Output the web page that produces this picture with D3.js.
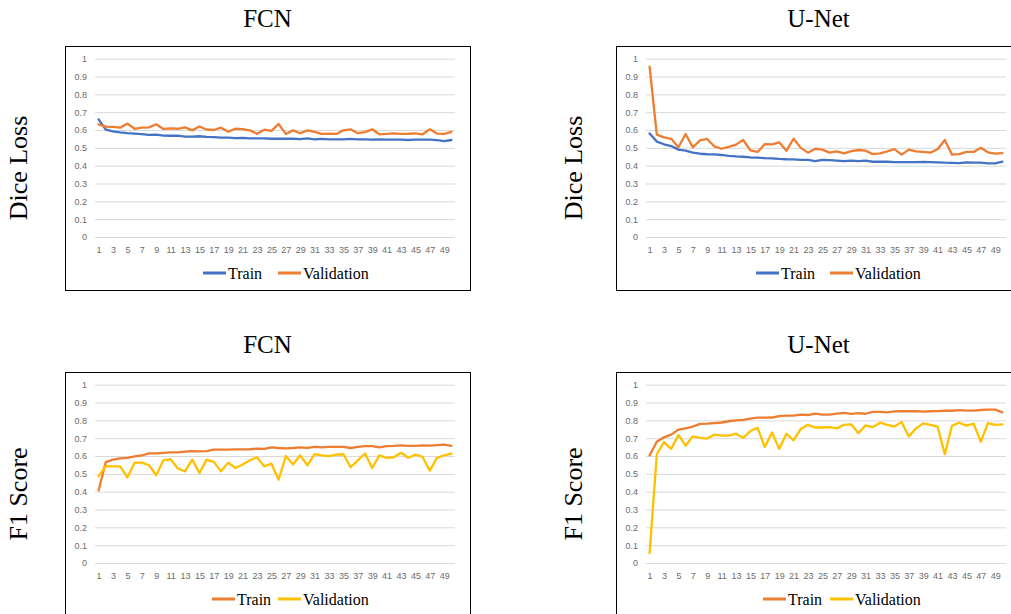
<!DOCTYPE html>
<html><head><meta charset="utf-8">
<script src="https://cdn.jsdelivr.net/npm/d3@7"></script>
<style>body{margin:0;background:#fff}svg{display:block}</style>
</head><body><svg id="c" width="1011" height="614"></svg>
<script>
const epochs = [1,2,3,4,5,6,7,8,9,10,11,12,13,14,15,16,17,18,19,20,21,22,23,24,25,26,27,28,29,30,31,32,33,34,35,36,37,38,39,40,41,42,43,44,45,46,47,48,49,50];
const xTickValues = [1,3,5,7,9,11,13,15,17,19,21,23,25,27,29,31,33,35,37,39,41,43,45,47,49];
const yTicks = [0,0.1,0.2,0.3,0.4,0.5,0.6,0.7,0.8,0.9,1];
const yTickLabels = ["0","0.1","0.2","0.3","0.4","0.5","0.6","0.7","0.8","0.9","1"];
const seriesNames = ["Train","Validation"];
const titles = ["FCN","U-Net","FCN","U-Net"];
const yLabels = ["Dice Loss","Dice Loss","F1 Score","F1 Score"];

const fcnDiceTrain = [0.660,0.602,0.592,0.587,0.583,0.580,0.577,0.573,0.574,0.569,
 0.568,0.568,0.563,0.563,0.565,0.562,0.560,0.557,0.557,0.554,
 0.556,0.553,0.553,0.553,0.551,0.551,0.551,0.551,0.549,0.553,
 0.548,0.550,0.548,0.548,0.548,0.550,0.548,0.548,0.546,0.548,
 0.546,0.546,0.546,0.544,0.546,0.546,0.546,0.543,0.538,0.544];
const fcnDiceVal = [0.632,0.619,0.618,0.613,0.636,0.607,0.613,0.615,0.632,0.606,
 0.609,0.607,0.615,0.598,0.620,0.603,0.600,0.613,0.591,0.607,
 0.605,0.598,0.579,0.602,0.595,0.634,0.578,0.598,0.582,0.598,
 0.590,0.578,0.580,0.578,0.598,0.604,0.582,0.588,0.604,0.576,
 0.578,0.581,0.578,0.579,0.581,0.576,0.604,0.580,0.578,0.590];
const unetDiceTrain = [0.581,0.535,0.520,0.510,0.490,0.485,0.473,0.467,0.464,0.463,
 0.460,0.455,0.452,0.450,0.446,0.445,0.442,0.441,0.438,0.436,
 0.435,0.433,0.432,0.425,0.432,0.431,0.428,0.425,0.428,0.425,
 0.428,0.422,0.422,0.422,0.420,0.420,0.420,0.420,0.421,0.420,
 0.419,0.417,0.416,0.414,0.418,0.417,0.417,0.413,0.413,0.423];
const unetDiceVal = [0.955,0.574,0.559,0.551,0.503,0.578,0.503,0.542,0.550,0.508,
 0.495,0.505,0.518,0.544,0.486,0.477,0.521,0.520,0.531,0.484,
 0.551,0.500,0.473,0.495,0.490,0.473,0.480,0.469,0.482,0.488,
 0.484,0.465,0.469,0.480,0.493,0.462,0.490,0.480,0.477,0.473,
 0.492,0.544,0.462,0.465,0.477,0.477,0.500,0.475,0.468,0.470];
const fcnF1Train = [0.407,0.566,0.580,0.587,0.590,0.598,0.603,0.615,0.615,0.618,
 0.620,0.620,0.625,0.628,0.626,0.628,0.636,0.636,0.636,0.637,
 0.637,0.638,0.642,0.640,0.648,0.645,0.643,0.645,0.648,0.646,
 0.651,0.649,0.651,0.651,0.651,0.645,0.651,0.655,0.655,0.649,
 0.655,0.657,0.660,0.657,0.657,0.660,0.658,0.661,0.664,0.657];
const fcnF1Val = [0.486,0.544,0.542,0.542,0.480,0.563,0.563,0.548,0.492,0.576,
 0.582,0.530,0.514,0.580,0.505,0.580,0.567,0.514,0.563,0.533,
 0.552,0.576,0.593,0.542,0.557,0.467,0.600,0.552,0.604,0.548,
 0.610,0.604,0.600,0.608,0.610,0.537,0.576,0.614,0.533,0.604,
 0.590,0.593,0.618,0.590,0.608,0.595,0.518,0.590,0.604,0.614];
const unetF1Train = [0.604,0.680,0.705,0.720,0.748,0.755,0.765,0.780,0.782,0.785,
 0.788,0.795,0.800,0.803,0.810,0.815,0.815,0.816,0.824,0.826,
 0.827,0.832,0.830,0.838,0.832,0.832,0.838,0.842,0.836,0.840,
 0.837,0.848,0.848,0.845,0.850,0.851,0.851,0.852,0.849,0.851,
 0.852,0.854,0.854,0.857,0.855,0.855,0.858,0.860,0.860,0.845];
const unetF1Val = [0.055,0.610,0.678,0.640,0.718,0.658,0.710,0.702,0.698,0.720,
 0.714,0.715,0.725,0.702,0.740,0.758,0.650,0.732,0.640,0.725,
 0.688,0.752,0.775,0.760,0.760,0.762,0.755,0.775,0.778,0.728,
 0.772,0.762,0.787,0.775,0.765,0.790,0.710,0.755,0.783,0.775,
 0.765,0.610,0.770,0.787,0.770,0.782,0.680,0.785,0.775,0.778];

const BLUE="#4472C4", ORANGE="#ED7D31", YELLOW="#FFC000";
const panels = [
  {bx:65,  by:46,  ylx:27,  train:fcnDiceTrain,  val:fcnDiceVal,  ct:BLUE,   cv:ORANGE, L0:138, V0:213},
  {bx:616, by:46,  ylx:582, train:unetDiceTrain, val:unetDiceVal, ct:BLUE,   cv:ORANGE, L0:140, V0:214},
  {bx:65,  by:372, ylx:27,  train:fcnF1Train,    val:fcnF1Val,    ct:ORANGE, cv:YELLOW, L0:147, V0:213},
  {bx:616, by:372, ylx:582, train:unetF1Train,   val:unetF1Val,   ct:ORANGE, cv:YELLOW, L0:147, V0:214}
];
const BW=405, BH=244, PL=30, PT=12.7, PW=360, PH=178.3;
const serif = "'Liberation Serif','Times New Roman',serif";
const sans = "'Liberation Sans',Arial,sans-serif";
const svg = d3.select("#c");
svg.append("rect").attr("width",1011).attr("height",614).attr("fill","#fff");

panels.forEach((p,k)=>{
  const g = svg.append("g").attr("transform",`translate(${p.bx},${p.by})`);
  g.append("rect").attr("x",0.5).attr("y",0.5).attr("width",BW).attr("height",BH)
    .attr("fill","#fff").attr("stroke","#000").attr("stroke-width",1);
  const x = d3.scalePoint().domain(epochs).range([PL,PL+PW]).padding(0.5);
  const y = d3.scaleLinear().domain([0,1]).range([PT+PH,PT]);

  g.append("g").attr("transform",`translate(${PL},0)`)
    .call(d3.axisLeft(y).tickValues(yTicks).tickSize(-PW).tickPadding(8)
      .tickFormat((d,i)=>yTickLabels[i]))
    .call(a=>a.select(".domain").remove())
    .call(a=>a.selectAll(".tick line").attr("stroke","#d9d9d9").attr("stroke-width",1))
    .call(a=>a.selectAll(".tick text").attr("fill","#6b6b6b")
      .style("font-family",sans).style("font-size","9px"));

  g.append("g").attr("transform",`translate(0,${PT+PH})`)
    .call(d3.axisBottom(x).tickValues(xTickValues).tickSize(0).tickPadding(10))
    .call(a=>a.select(".domain").remove())
    .call(a=>a.selectAll(".tick text").attr("fill","#6b6b6b")
      .style("font-family",sans).style("font-size","9px"));

  const line = d3.line().x((d,i)=>x(epochs[i])).y(d=>y(d));
  [[p.train,p.ct],[p.val,p.cv]].forEach(([data,col])=>{
    g.append("path").datum(data).attr("d",line).attr("fill","none")
      .attr("stroke",col).attr("stroke-width",2.3)
      .attr("stroke-linejoin","round").attr("stroke-linecap","round");
  });

  // legend
  const ly = 227;
  const items = [[seriesNames[0],p.ct,p.L0],[seriesNames[1],p.cv,p.V0]];
  items.forEach(([name,col,x0])=>{
    g.append("line").attr("x1",x0).attr("x2",x0+23).attr("y1",ly).attr("y2",ly)
      .attr("stroke",col).attr("stroke-width",3);
    g.append("text").attr("x",x0+25).attr("y",ly).attr("dy","0.35em")
      .style("font-family",serif).style("font-size","16px").attr("fill","#000").text(name);
  });

  // title
  svg.append("text").attr("x",p.bx+BW/2).attr("y",p.by-19).attr("text-anchor","middle")
    .style("font-family",serif).style("font-size","25px").attr("fill","#000").text(titles[k]);
  // y label
  svg.append("text").attr("transform",`translate(${p.ylx},${p.by+BH/2}) rotate(-90)`)
    .attr("text-anchor","middle")
    .style("font-family",serif).style("font-size","26px").attr("fill","#000").text(yLabels[k]);
});
</script></body></html>
